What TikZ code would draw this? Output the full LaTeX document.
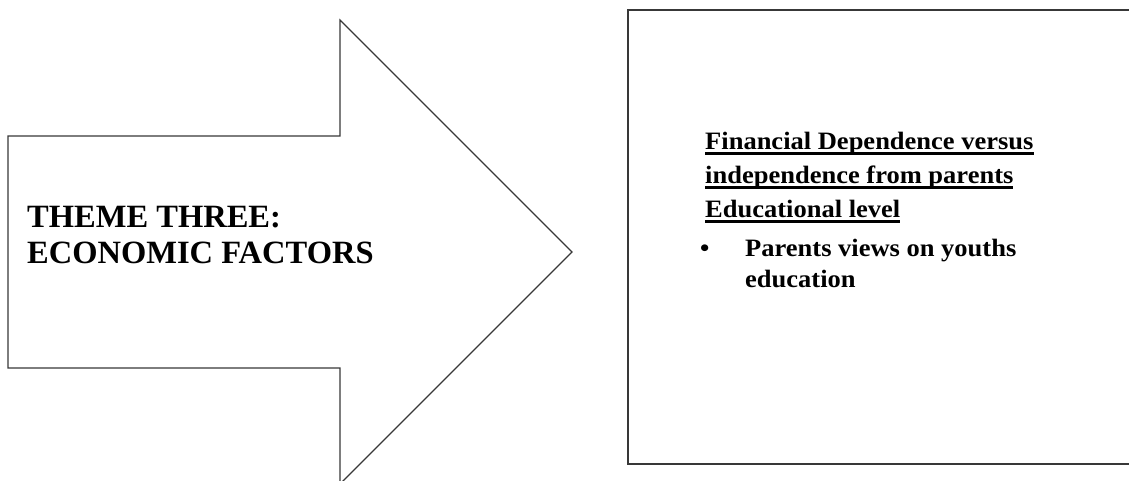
\documentclass[tikz,border=0pt]{standalone}
\usepackage{fontspec}
\setmainfont{Liberation Serif}
\newfontfamily\rfont[FakeStretch=1.06]{Liberation Serif}
\newcommand{\thickul}[1]{{\setbox0\hbox{#1}\rlap{\rule[-5.5pt]{\wd0}{2.2pt}}\box0}}
\begin{document}
\begin{tikzpicture}[x=1pt,y=-1pt,
  outline/.style={draw=black!78,line width=1.2pt,line join=miter},
  bigtext/.style={anchor=base west,inner sep=0pt,font=\fontsize{32.5}{36}\selectfont\bfseries},
  boxtext/.style={anchor=base west,inner sep=0pt,font=\rfont\fontsize{25}{30}\selectfont\bfseries}]
\useasboundingbox (0,0) rectangle (1129,480);
% arrow
\draw[outline] (8,368) -- (8,136) -- (340,136) -- (340,20) -- (572,252) -- (340,484) -- (340,368) -- cycle;
% box
\draw[outline] (1135,10) -- (628,10) -- (628,464) -- (1135,464);
% texts
\node[bigtext] (t1) at (27,227) {THEME THREE:};
\node[bigtext] (t2) at (27,263) {ECONOMIC FACTORS};
\node[boxtext] (r1) at (705,149) {\thickul{Financial Dependence versus}};
\node[boxtext] (r2) at (705,183) {\thickul{independence from parents}};
\node[boxtext] (r3) at (705,217) {\thickul{Educational level}};
\node[boxtext] (b0) at (700,256) {•};
\node[boxtext] (r4) at (745,256) {Parents views on youths};
\node[boxtext] (r5) at (745,287) {education};
\end{tikzpicture}
\end{document}
